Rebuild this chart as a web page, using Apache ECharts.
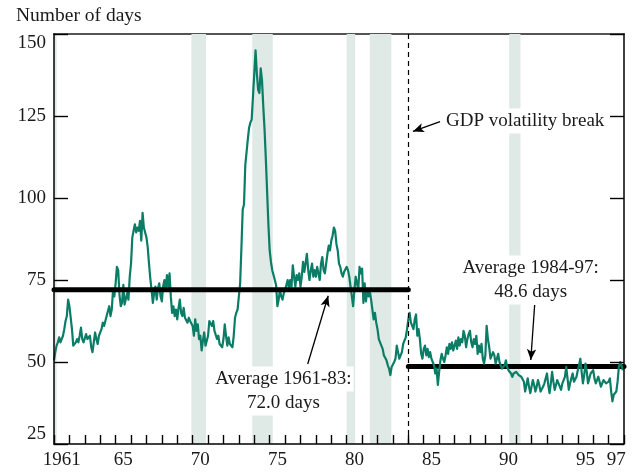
<!DOCTYPE html>
<html>
<head>
<meta charset="utf-8">
<script src="https://cdn.jsdelivr.net/npm/echarts@6/dist/echarts.min.js"></script>
<style>
  html, body { margin: 0; padding: 0; background: #fff; }
  #chart { width: 634px; height: 472px; }
</style>
</head>
<body>
<div id="chart"></div>
<script>
// monthly values, Jan 1961 - Dec 1997 (number of days)
const days1960s = [
  50.5, 53, 55, 56, 57.5, 56, 55.5, 58, 60, 62.5, 64, 69,
  67, 63.5, 60, 55, 54.5, 56, 57, 56, 58, 60.5, 57, 56,
  55.5, 58.5, 57, 56.5, 58, 54.5, 53, 56, 59, 57, 55.5, 58,
  57.5, 60, 62, 61, 62.5, 64, 63.5, 67, 64, 66, 72, 70,
  74, 79, 78, 70.5, 67, 68, 73.5, 67.5, 68, 71, 69, 76,
  80, 88, 90, 92, 89.5, 91, 90, 93, 87, 95.5, 91, 89.5,
  88, 85, 80, 75.5, 72, 68, 71, 73, 69, 72.5, 74, 70,
  68.5, 73, 75, 72, 76.5, 73, 77, 70, 65, 67, 64, 66,
  63, 66.5, 69, 65, 64, 66.5, 63.5, 64, 62, 63.5, 62.5, 63
];
const days1970s = [
  61, 58, 63, 59.5, 61.5, 57, 58, 53.5, 56.5, 59, 55, 54.5,
  58, 62.5, 63, 61, 62.5, 59.5, 59, 57, 58, 55.5, 56, 54.5,
  57, 61.5, 58, 55, 57.5, 55.5, 56, 54.5, 58, 63.5, 65, 66,
  70, 74, 85, 96.5, 98, 110, 114, 118, 121.5, 123, 124, 131,
  138, 145, 138, 133, 132, 139.5, 136, 128, 121, 112, 102, 92,
  84, 80.5, 78, 76.5, 75, 73.5, 67, 69, 72, 70, 69, 71,
  72, 73.5, 75, 72.5, 75, 73, 79.5, 76, 73, 76.5, 75, 77,
  73, 76, 80.5, 77.5, 78, 83, 78, 75, 78, 80, 76, 78,
  76, 79, 77, 75, 80, 82, 78, 77, 80, 83, 85.5, 84,
  87, 88.5, 91, 90, 86, 84, 80, 79, 77, 76, 77.5, 77
];
const days1980s = [
  79, 78, 76, 73, 70, 67, 72, 76, 74, 72, 79, 77,
  78.5, 68, 74, 68.5, 72, 70, 71.5, 69, 66, 63, 65, 62,
  60, 57, 56, 55, 54, 52, 52.5, 50.5, 49, 48, 46, 48.5,
  48, 50, 51, 55, 53, 51, 50.5, 53, 55.5, 56, 57.5, 60,
  63, 65, 62, 61, 60, 63, 64.5, 58, 60, 57, 52.5, 51,
  54, 55, 52, 54, 51.5, 53, 51, 50, 49, 46.5, 48, 43,
  47, 50.5, 52.5, 51, 50, 52, 54.5, 52.5, 55.5, 54, 56, 53.5,
  55, 56.5, 54, 57.5, 55, 57, 56, 59.5, 58, 54.5, 57, 58.5,
  59.5, 56, 54.5, 57, 55.5, 58, 52.5, 55, 53, 55.5, 51, 49.5,
  52, 61, 57, 54.5, 51, 50.5, 53, 52, 49.5, 51, 52.5, 50
];
const days1990s = [
  49.5, 48, 47.5, 49, 50.5, 48.5, 47.5, 48, 46.5, 45.5, 46.5, 47,
  47, 46.5, 46, 46.5, 45.5, 45, 44, 41, 43, 45, 42.5, 40.5,
  42.5, 44.5, 43, 41, 42.5, 44.5, 43, 41, 40.5, 42.5, 43.5, 45,
  46.5, 43, 40.5, 43.5, 47, 44, 41.5, 43, 44.5, 43.5, 42.5, 41.5,
  43.5, 44.5, 45.5, 48.5, 45, 41.5, 43.5, 45, 46.5, 44, 43.5, 45.5,
  47.5, 49, 51, 47, 43.5, 46, 49.5, 47, 43.5, 45, 46.5, 46,
  47.5, 45, 43.5, 44.5, 45.5, 44, 42.5, 43.5, 44.5, 44, 43.5, 44,
  44, 45, 41, 38, 40, 40.5, 41, 44, 48.5, 50, 49, 47.5
];

const years = [];
for (let y = 1961; y <= 1997; y++) years.push(String(y));
const labelYears = ['1961', '1965', '1970', '1975', '1980', '1985', '1990', '1995', '1997'];

// recession periods (start, end)
const recessions = [
  [1960.9, 1961.17], [1969.92, 1970.87], [1973.87, 1975.2],
  [1980.0, 1980.55], [1981.5, 1982.9], [1990.55, 1991.28]
];

// period averages
const avgFrom = [1961, 1984];
const avgTo = [1984, 1998];
const avgValue = [72.0, 48.6];
const breakYear = 1984;

const serif = '"Liberation Serif", "DejaVu Serif", serif';
const ink = '#1a1a1a';

const allDays = [].concat(days1960s, days1970s, days1980s, days1990s);
const lineData = allDays.map((v, i) => [1961 + i / 12, v]);

const chart = echarts.init(document.getElementById('chart'));

const textBox = (text, x, y, align) => ({
  type: 'text',
  z: 100,
  style: {
    text: text,
    x: x,
    y: y,
    align: align || 'center',
    verticalAlign: 'middle',
    font: '19px ' + serif,
    fill: ink,
    backgroundColor: '#fff',
    padding: [3, 2]
  }
});

chart.setOption({
  animation: false,
  backgroundColor: '#fff',
  grid: { left: 54, right: 10, top: 34, bottom: 28 },
  xAxis: [
    {
      type: 'category',
      data: years,
      boundaryGap: true,
      position: 'bottom',
      zlevel: 1,
      axisLine: { show: true, lineStyle: { color: '#000', width: 1.5 } },
      axisTick: { show: true, inside: true, length: 9, interval: 0, lineStyle: { color: '#000', width: 1.4 } },
      axisLabel: {
        interval: (idx, val) => labelYears.indexOf(val) >= 0,
        formatter: v => (v === '1961' ? v : v.slice(2)),
        fontFamily: serif, fontSize: 19, color: ink, margin: 7
      },
      splitLine: { show: false }
    },
    {
      // data axis, its line also draws the top frame
      type: 'value', min: 1961, max: 1998, position: 'top',
      axisLine: { show: true, lineStyle: { color: '#555', width: 2 } },
      axisTick: { show: false },
      axisLabel: { show: false },
      splitLine: { show: false }
    }
  ],
  yAxis: [
    {
      type: 'value', min: 25, max: 150, interval: 25, position: 'left',
      zlevel: 1,
      axisLine: { show: true, lineStyle: { color: '#000', width: 1.5 } },
      axisTick: { show: true, inside: true, length: 14, lineStyle: { color: '#000', width: 1.4 } },
      axisLabel: {
        fontFamily: serif, fontSize: 19, color: ink, margin: 8,
        verticalAlignMaxLabel: 'top', verticalAlignMinLabel: 'bottom'
      },
      splitLine: { show: false }
    },
    {
      type: 'value', min: 25, max: 150, interval: 25, position: 'right',
      zlevel: 1,
      axisLine: { show: true, lineStyle: { color: '#000', width: 1.5 } },
      axisTick: { show: true, inside: true, length: 14, lineStyle: { color: '#000', width: 1.4 } },
      axisLabel: { show: false },
      splitLine: { show: false }
    }
  ],
  series: [
    {
      // recession shading and annotation arrows
      type: 'line',
      xAxisIndex: 1,
      data: [],
      silent: true,
      z: 1,
      markArea: {
        silent: true,
        itemStyle: { color: '#dfe9e5' },
        data: recessions.map(r => [{ xAxis: r[0] }, { xAxis: r[1] }])
      },
      markLine: {
        silent: true,
        symbol: ['none', 'arrow'],
        symbolSize: [7, 11],
        label: { show: false },
        lineStyle: { color: '#000', width: 1.3, type: 'solid' },
        data: [
          [{ coord: [1986.06, 123.3] }, { coord: [1984.3, 120.3] }],
          [{ coord: [1977.47, 49.4] }, { coord: [1978.8, 70.2] }],
          [{ coord: [1992.2, 67.4] }, { coord: [1991.95, 50.6] }]
        ]
      }
    },
    {
      type: 'line',
      xAxisIndex: 1,
      data: [],
      silent: true,
      z: 3,
      markLine: {
        silent: true,
        symbol: ['none', 'none'],
        label: { show: false },
        lineStyle: { color: '#000', width: 1.2, type: [5, 4] },
        data: [{ xAxis: breakYear }]
      }
    },
    {
      type: 'line',
      xAxisIndex: 1,
      data: [[avgFrom[1], avgValue[1]], [avgTo[1], avgValue[1]]],
      symbol: 'none',
      silent: true,
      z: 2,
      lineStyle: { color: '#000', width: 5, cap: 'round' }
    },
    {
      name: 'Days',
      type: 'line',
      xAxisIndex: 1,
      data: lineData,
      symbol: 'none',
      z: 4,
      lineStyle: { color: '#0b7d66', width: 2.2, join: 'round' }
    },
    {
      type: 'line',
      xAxisIndex: 1,
      data: [[avgFrom[0], avgValue[0]], [avgTo[0], avgValue[0]]],
      symbol: 'none',
      silent: true,
      z: 5,
      lineStyle: { color: '#000', width: 5, cap: 'round' }
    }
  ],
  graphic: [
    {
      type: 'text', z: 100,
      style: { text: 'Number of days', x: 16, y: 16, align: 'left', verticalAlign: 'middle', font: '19.5px ' + serif, fill: ink }
    },
    textBox('GDP volatility break', 444, 121, 'left'),
    textBox('Average 1961-83:', 283.5, 379),
    textBox('72.0 days', 283.5, 403),
    textBox('Average 1984-97:', 530.7, 268),
    textBox('48.6 days', 530.7, 292)
  ]
});
</script>
</body>
</html>
